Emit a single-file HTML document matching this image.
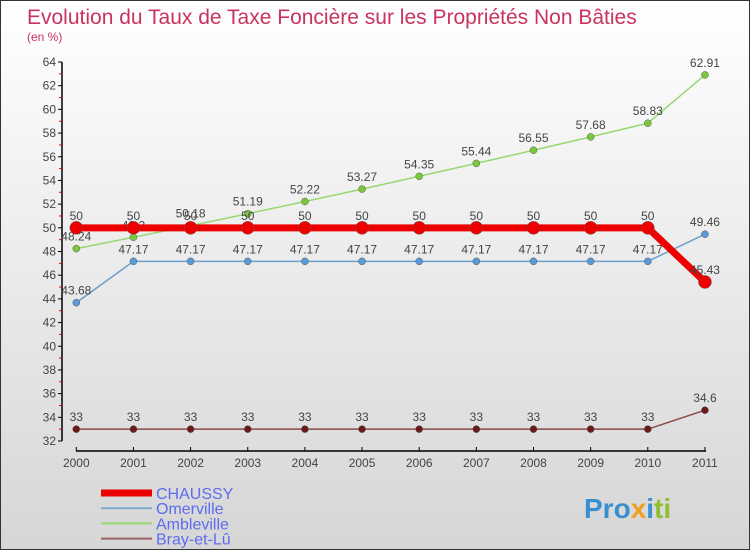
<!DOCTYPE html>
<html><head><meta charset="utf-8"><style>
body{margin:0;}
#c{width:750px;height:550px;position:relative;box-sizing:border-box;border:1px solid #333;background:linear-gradient(#ffffff,#d6d6d6);font-family:"Liberation Sans",sans-serif;overflow:hidden}
svg{position:absolute;left:0;top:0}
</style></head><body>
<div id="c">
<svg id="s" width="750" height="550" xmlns="http://www.w3.org/2000/svg">
<text x="26" y="23" font-size="21" fill="#c8335f">Evolution du Taux de Taxe Foncière sur les Propriétés Non Bâties</text>
<text x="26" y="40" font-size="12" fill="#c8335f">(en %)</text>
<g id="axes"></g><g id="series"></g><g id="legend"></g>
<text x="583" y="517" font-size="28" font-weight="bold" fill="#3a8fd0">Pro<tspan fill="#f0a020">x</tspan><tspan fill="#3a8fd0">i</tspan><tspan fill="#90c030">ti</tspan></text>
</svg></div>
<script>
const years=["2000","2001","2002","2003","2004","2005","2006","2007","2008","2009","2010","2011"];
const yTicks=[32,34,36,38,40,42,44,46,48,50,52,54,56,58,60,62,64];
const chaussy=[50,50,50,50,50,50,50,50,50,50,50,45.43];
const omerville=[43.68,47.17,47.17,47.17,47.17,47.17,47.17,47.17,47.17,47.17,47.17,49.46];
const ambleville=[48.24,49.2,50.18,51.19,52.22,53.27,54.35,55.44,56.55,57.68,58.83,62.91];
const bray=[33,33,33,33,33,33,33,33,33,33,33,34.6];
const NS="http://www.w3.org/2000/svg";
const X=i=>75.3+i*57.15, Y=v=>440-(v-32)*(379/32);
function mk(t,a,p){const e=document.createElementNS(NS,t);for(const k in a)e.setAttribute(k,a[k]);(p||document.getElementById('s')).appendChild(e);return e;}
const ax=document.getElementById('axes');
let e=mk('line',{x1:61,y1:61,x2:61,y2:440,stroke:'#000','stroke-width':1.5},ax);

e=mk('line',{x1:75,y1:450,x2:705,y2:450,stroke:'#000','stroke-width':1.5},ax);

yTicks.forEach((v,i)=>{mk('line',{x1:57,y1:Y(v),x2:61,y2:Y(v),stroke:'#000'},ax);
 if(i<yTicks.length-1)mk('line',{x1:58,y1:Y(v+1),x2:61,y2:Y(v+1),stroke:'#e00'},ax);
 const t=mk('text',{x:55,y:Y(v)+4,'text-anchor':'end','font-size':12,fill:'#444'},ax);t.textContent=v;
 });
years.forEach((y,i)=>{mk('line',{x1:X(i),y1:446,x2:X(i),y2:450,stroke:'#000'},ax);
 const t=mk('text',{x:X(i),y:466,'text-anchor':'middle','font-size':12,fill:'#444'},ax);t.textContent=y;
 });
const sg=document.getElementById('series');
function series(d,name,col,w,r,dot){
 const g=mk('g',{},sg);
 mk('polyline',{points:d.map((v,i)=>X(i)+','+Y(v)).join(' '),fill:'none',stroke:col,'stroke-width':w,'stroke-linejoin':'round'},g);
 d.forEach((v,i)=>{const c=mk('circle',{cx:X(i),cy:Y(v),r:r,fill:dot,stroke:'#555','stroke-width':0.5},g);
  
  const t=mk('text',{x:X(i),y:Y(v)-8,'text-anchor':'middle','font-size':12,fill:'#444'},g);t.textContent=v;
  });
}
series(bray,'bray-et-lu','#8b4a4a',1.5,3.5,'#6b1a1a');
series(omerville,'omerville','#6aa0cf',1.5,3.5,'#5a9ad8');
series(ambleville,'ambleville','#96d870',1.5,3.5,'#7cc83c');
series(chaussy,'chaussy','#ee0000',7,6.5,'#ee0000');
const lg=document.getElementById('legend');
[["CHAUSSY","#ee0000",7],["Omerville","#7aaed0",2],["Ambleville","#96d870",2],["Bray-et-Lû","#9a6060",2]].forEach((l,i)=>{
 const y=492+i*15.2;
 const g=mk('g',{},lg);
 mk('line',{x1:100,y1:y,x2:151,y2:y,stroke:l[1],'stroke-width':l[2]},g);
 const t=mk('text',{x:155,y:y+6,'font-size':16,fill:'#5c6cf0'},g);t.textContent=l[0];});
</script>
</body></html>
